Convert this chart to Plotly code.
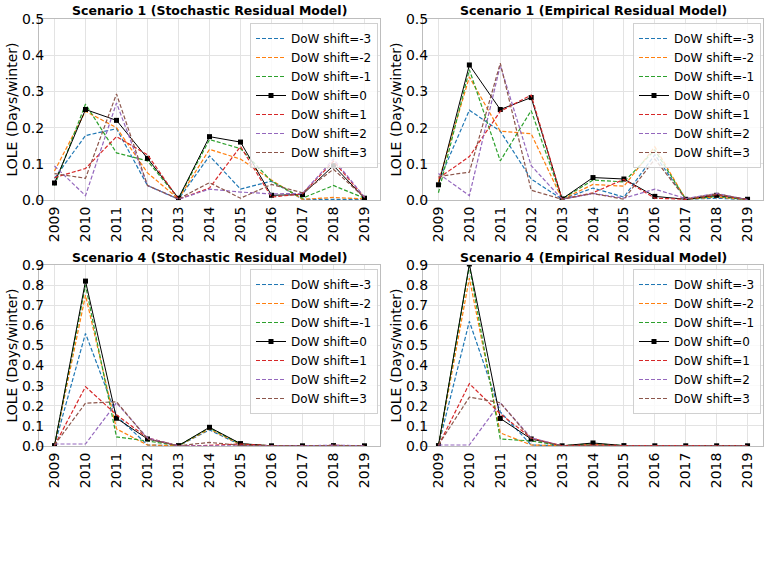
import plotly.graph_objects as go

years = list(range(2009, 2020))
shift_labels = ["DoW shift=-3", "DoW shift=-2", "DoW shift=-1", "DoW shift=0",
                "DoW shift=1", "DoW shift=2", "DoW shift=3"]
colors = ["#1f77b4", "#ff7f0e", "#2ca02c", "#000000", "#d62728", "#9467bd", "#8c564b"]

titles = ["Scenario 1 (Stochastic Residual Model)", "Scenario 1 (Empirical Residual Model)",
          "Scenario 4 (Stochastic Residual Model)", "Scenario 4 (Empirical Residual Model)"]
ytitle = "LOLE (Days/winter)"

# Scenario 1, stochastic
s1_stoch = [
    [0.060, 0.178, 0.197, 0.040, 0.002, 0.122, 0.030, 0.052, 0.002, 0.002, 0.002],
    [0.080, 0.245, 0.200, 0.075, 0.003, 0.140, 0.113, 0.055, 0.002, 0.007, 0.003],
    [0.040, 0.265, 0.130, 0.108, 0.004, 0.167, 0.142, 0.052, 0.005, 0.040, 0.005],
    [0.047, 0.250, 0.220, 0.115, 0.005, 0.175, 0.160, 0.013, 0.015, 0.095, 0.005],
    [0.062, 0.087, 0.175, 0.125, 0.002, 0.033, 0.148, 0.008, 0.017, 0.107, 0.007],
    [0.094, 0.012, 0.268, 0.040, 0.002, 0.030, 0.022, 0.017, 0.018, 0.113, 0.008],
    [0.073, 0.060, 0.293, 0.040, 0.003, 0.048, 0.005, 0.043, 0.020, 0.085, 0.006],
]
# Scenario 1, empirical
s1_emp = [
    [0.050, 0.248, 0.190, 0.058, 0.002, 0.033, 0.008, 0.125, 0.002, 0.005, 0.001],
    [0.050, 0.340, 0.190, 0.183, 0.002, 0.043, 0.038, 0.147, 0.002, 0.008, 0.001],
    [0.020, 0.360, 0.108, 0.247, 0.003, 0.055, 0.050, 0.138, 0.002, 0.010, 0.001],
    [0.042, 0.373, 0.250, 0.283, 0.003, 0.062, 0.058, 0.010, 0.002, 0.013, 0.002],
    [0.060, 0.120, 0.245, 0.290, 0.002, 0.020, 0.057, 0.005, 0.002, 0.015, 0.001],
    [0.073, 0.012, 0.372, 0.095, 0.002, 0.018, 0.005, 0.030, 0.004, 0.018, 0.001],
    [0.065, 0.077, 0.378, 0.027, 0.002, 0.018, 0.002, 0.113, 0.003, 0.017, 0.001],
]
# Scenario 4, stochastic
s4_stoch = [
    [0.002, 0.560, 0.150, 0.005, 0.001, 0.080, 0.005, 0.001, 0.001, 0.001, 0.001],
    [0.002, 0.750, 0.085, 0.005, 0.001, 0.085, 0.007, 0.001, 0.001, 0.001, 0.001],
    [0.002, 0.800, 0.045, 0.025, 0.001, 0.090, 0.010, 0.001, 0.001, 0.002, 0.001],
    [0.002, 0.820, 0.138, 0.035, 0.002, 0.093, 0.012, 0.001, 0.001, 0.002, 0.001],
    [0.002, 0.295, 0.155, 0.040, 0.001, 0.003, 0.010, 0.001, 0.001, 0.003, 0.001],
    [0.010, 0.010, 0.215, 0.040, 0.001, 0.002, 0.002, 0.001, 0.001, 0.004, 0.001],
    [0.005, 0.213, 0.220, 0.035, 0.001, 0.018, 0.003, 0.001, 0.001, 0.003, 0.001],
]
# Scenario 4, empirical
s4_emp = [
    [0.002, 0.620, 0.170, 0.005, 0.001, 0.005, 0.001, 0.001, 0.001, 0.001, 0.001],
    [0.002, 0.835, 0.065, 0.005, 0.001, 0.008, 0.001, 0.001, 0.001, 0.001, 0.001],
    [0.002, 0.895, 0.035, 0.025, 0.001, 0.012, 0.002, 0.001, 0.001, 0.001, 0.001],
    [0.002, 0.905, 0.137, 0.035, 0.001, 0.015, 0.002, 0.001, 0.001, 0.001, 0.001],
    [0.002, 0.310, 0.160, 0.040, 0.001, 0.005, 0.002, 0.001, 0.001, 0.001, 0.001],
    [0.005, 0.005, 0.215, 0.040, 0.001, 0.002, 0.001, 0.001, 0.001, 0.001, 0.001],
    [0.005, 0.243, 0.215, 0.035, 0.001, 0.003, 0.001, 0.001, 0.001, 0.001, 0.001],
]
datasets = [s1_stoch, s1_emp, s4_stoch, s4_emp]
ymax = [0.5, 0.5, 0.9, 0.9]

W, H = 770, 565
FONT = "DejaVu Sans"
# pixel boxes (left, right, top, bottom)
boxes = [(39, 380, 19, 200), (423, 763, 19, 200), (39, 380, 265, 446), (423, 763, 265, 446)]

fig = go.Figure()
annotations = []
for i, (data, box) in enumerate(zip(datasets, boxes)):
    n = i + 1
    xa = "x" if n == 1 else f"x{n}"
    ya = "y" if n == 1 else f"y{n}"
    lg = "legend" if n == 1 else f"legend{n}"
    for k, (lab, col, vals) in enumerate(zip(shift_labels, colors, data)):
        if k == 3:
            fig.add_trace(go.Scatter(x=years, y=vals, name=lab, mode="lines+markers",
                                     line=dict(color=col, width=1),
                                     marker=dict(symbol="square", size=5, color=col),
                                     xaxis=xa, yaxis=ya, legend=lg))
        else:
            fig.add_trace(go.Scatter(x=years, y=vals, name=lab, mode="lines",
                                     line=dict(color=col, width=1.2, dash="4px,2px"),
                                     xaxis=xa, yaxis=ya, legend=lg))
    l, r, t, b = box
    xd = [l / W, r / W]
    yd = [1 - b / H, 1 - t / H]
    axcommon = dict(showgrid=True, gridcolor="#e3e3e3", gridwidth=1, showline=True,
                    linecolor="#bdbdbd", linewidth=1, mirror=True, zeroline=False,
                    automargin=False,
                    ticks="", tickfont=dict(family=FONT, size=14, color="#000"))
    fig.layout[f"xaxis{'' if n == 1 else n}"] = dict(
        domain=xd, anchor=ya, range=[2008.5, 2019.5], tickvals=years,
        ticktext=[str(y) for y in years], tickangle=-90, **axcommon)
    yt = [round(0.1 * j, 1) for j in range(int(round(ymax[i] * 10)) + 1)]
    fig.layout[f"yaxis{'' if n == 1 else n}"] = dict(
        domain=yd, anchor=xa, range=[0, ymax[i]], tickvals=yt,
        ticktext=[f"{v:.1f}" for v in yt], ticklabelstandoff=-9,
        **axcommon)
    fig.layout[lg] = dict(x=(r - 2) / W, y=1 - (t + 4) / H, xanchor="right", yanchor="top",
                          bgcolor="rgba(255,255,255,0.8)", bordercolor="#d0d0d0", borderwidth=1,
                          font=dict(family=FONT, size=12, color="#000"), tracegroupgap=0,
                          itemwidth=30)
    annotations.append(dict(text=f"<b>{titles[i]}</b>", x=(l + r) / 2 / W, y=1 - (t - 8) / H,
                            xref="paper", yref="paper", showarrow=False,
                            font=dict(family=FONT, size=12.5, color="#000"),
                            xanchor="center", yanchor="middle"))
    annotations.append(dict(text=ytitle, x=(l - 28) / W, y=1 - (t + b) / 2 / H,
                            xref="paper", yref="paper", showarrow=False, textangle=-90,
                            font=dict(family=FONT, size=14, color="#000"),
                            xanchor="center", yanchor="middle"))

fig.update_layout(width=W, height=H, margin=dict(l=0, r=0, t=0, b=0),
                  plot_bgcolor="white", paper_bgcolor="white", annotations=annotations,
                  font=dict(family=FONT))
fig.write_html("out.html")
